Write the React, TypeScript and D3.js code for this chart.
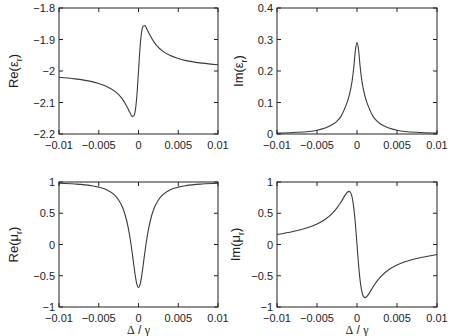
import React from 'react';
import * as d3 from 'd3';

// detuning samples (Δ/γ), shared by all four panels
const xValues = [
  -0.01, -0.008, -0.006, -0.005, -0.004, -0.003, -0.0025, -0.002, -0.0015, -0.0012, -0.001,
  -0.0008, -0.0006, -0.0004, -0.0002, 0, 0.0002, 0.0004, 0.0006, 0.0008, 0.001, 0.0012,
  0.0015, 0.002, 0.0025, 0.003, 0.004, 0.005, 0.006, 0.008, 0.01,
];

const reEps = [
  -2.02, -2.025, -2.033, -2.04, -2.049, -2.064, -2.075, -2.09, -2.111, -2.126, -2.136,
  -2.144, -2.143, -2.125, -2.077, -2.0, -1.923, -1.875, -1.857, -1.856, -1.864, -1.874,
  -1.889, -1.91, -1.925, -1.936, -1.951, -1.96, -1.967, -1.975, -1.98,
];

const imEps = [
  0.003, 0.005, 0.008, 0.012, 0.019, 0.031, 0.041, 0.056, 0.083, 0.103, 0.12,
  0.142, 0.17, 0.212, 0.266, 0.29, 0.266, 0.212, 0.17, 0.142, 0.12, 0.103,
  0.083, 0.056, 0.041, 0.031, 0.019, 0.012, 0.008, 0.005, 0.003,
];

const reMu = [
  0.979, 0.967, 0.942, 0.918, 0.875, 0.79, 0.713, 0.591, 0.388, 0.206, 0.052,
  -0.126, -0.318, -0.502, -0.639, -0.69, -0.639, -0.502, -0.318, -0.126, 0.052, 0.206,
  0.388, 0.591, 0.713, 0.79, 0.875, 0.918, 0.942, 0.967, 0.979,
];

const imMu = [
  0.16, 0.209, 0.276, 0.327, 0.4, 0.51, 0.586, 0.68, 0.785, 0.836, 0.85,
  0.829, 0.75, 0.586, 0.327, 0, -0.327, -0.586, -0.75, -0.829, -0.85, -0.836,
  -0.785, -0.68, -0.586, -0.51, -0.4, -0.327, -0.276, -0.209, -0.16,
];

const xTicks = [-0.01, -0.005, 0, 0.005, 0.01];
const xTickLabels = ['−0.01', '−0.005', '0', '0.005', '0.01'];

const reEpsTicks = [-2.2, -2.1, -2, -1.9, -1.8];
const reEpsTickLabels = ['−2.2', '−2.1', '−2', '−1.9', '−1.8'];
const imEpsTicks = [0, 0.1, 0.2, 0.3, 0.4];
const imEpsTickLabels = ['0', '0.1', '0.2', '0.3', '0.4'];
const muTicks = [-1, -0.5, 0, 0.5, 1];
const muTickLabels = ['−1', '−0.5', '0', '0.5', '1'];

const FONT = '"Liberation Sans", Arial, Helvetica, sans-serif';
const INK = '#222';
const TICK = 4;

type PanelProps = {
  x0: number; x1: number; y0: number; y1: number;
  ys: number[];
  yTicks: number[]; yLabels: string[];
  part: string; sym: string; labelX: number;
  showXTitle: boolean;
};

const Panel = ({ x0, x1, y0, y1, ys, yTicks, yLabels, part, sym, labelX, showXTitle }: PanelProps) => {
  const xScale = d3.scaleLinear().domain([-0.01, 0.01]).range([x0, x1]);
  const yScale = d3.scaleLinear().domain([yTicks[0], yTicks[yTicks.length - 1]]).range([y1, y0]);

  const line = d3.line<number>()
    .x((_, i) => xScale(xValues[i]))
    .y(d => yScale(d))
    .curve(d3.curveMonotoneX);

  const midY = (y0 + y1) / 2;

  return (
    <g>
      <path d={line(ys) ?? ''} fill="none" stroke="#3a3a3a" strokeWidth={1.1} />
      <rect x={x0} y={y0} width={x1 - x0} height={y1 - y0} fill="none" stroke={INK} strokeWidth={1} />

      {xTicks.map((t, i) => (
        <g key={'x' + i}>
          <line x1={xScale(t)} x2={xScale(t)} y1={y1} y2={y1 - TICK} stroke={INK} />
          <line x1={xScale(t)} x2={xScale(t)} y1={y0} y2={y0 + TICK} stroke={INK} />
          <text x={xScale(t)} y={y1 + 15} textAnchor="middle" fontSize={11} fill={INK}>
            {xTickLabels[i]}
          </text>
        </g>
      ))}

      {yTicks.map((t, i) => (
        <g key={'y' + i}>
          <line x1={x0} x2={x0 + TICK} y1={yScale(t)} y2={yScale(t)} stroke={INK} />
          <line x1={x1} x2={x1 - TICK} y1={yScale(t)} y2={yScale(t)} stroke={INK} />
          <text x={x0 - 4} y={yScale(t) + 4} textAnchor="end" fontSize={11} fill={INK}>
            {yLabels[i]}
          </text>
        </g>
      ))}

      <text
        transform={`translate(${labelX},${midY}) rotate(-90)`}
        textAnchor="middle"
        fontSize={13}
        fill={INK}
      >
        {part}({sym}
        <tspan fontSize={9} dy={4}>r</tspan>
        <tspan dy={-4}>)</tspan>
      </text>

      {showXTitle && (
        <text x={(x0 + x1) / 2} y={334} textAnchor="middle" fontSize={12} fill={INK}>
          <tspan fontFamily='"Liberation Serif", serif'>Δ</tspan> / <tspan fontFamily='"Liberation Serif", serif'>γ</tspan>
        </text>
      )}
    </g>
  );
};

const App = () => {
  return (
    <svg
      width={450}
      height={336}
      style={{ position: 'absolute', left: 0, top: 0, background: '#fff' }}
      fontFamily={FONT}
    >
      <Panel x0={59} x1={218} y0={8} y1={134} ys={reEps} yTicks={reEpsTicks} yLabels={reEpsTickLabels}
        part="Re" sym="ε" labelX={18} showXTitle={false} />
      <Panel x0={277} x1={437} y0={8} y1={134} ys={imEps} yTicks={imEpsTicks} yLabels={imEpsTickLabels}
        part="Im" sym="ε" labelX={243} showXTitle={false} />
      <Panel x0={59} x1={218} y0={182} y1={307} ys={reMu} yTicks={muTicks} yLabels={muTickLabels}
        part="Re" sym="μ" labelX={18} showXTitle={true} />
      <Panel x0={277} x1={437} y0={182} y1={307} ys={imMu} yTicks={muTicks} yLabels={muTickLabels}
        part="Im" sym="μ" labelX={240} showXTitle={true} />
    </svg>
  );
};

export default App;
